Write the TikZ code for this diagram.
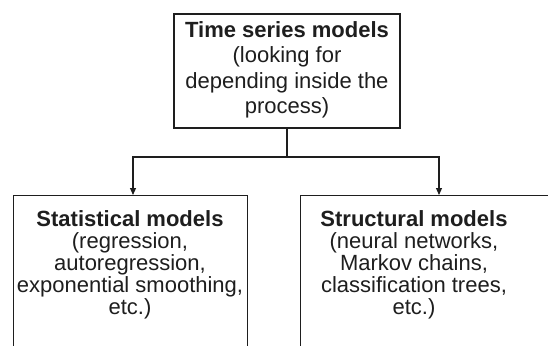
\documentclass[tikz,border=0pt]{standalone}
\usepackage{fontspec}
\setmainfont{Liberation Sans}
\usetikzlibrary{arrows.meta}
\definecolor{ink}{HTML}{1E1E1E}
\tikzset{
  boxnode/.style={draw=ink, line width=1.1pt, inner sep=0pt, fill=white},
  txt/.style={text=ink, inner sep=0pt, align=center, anchor=north},
  conn/.style={draw=ink, line width=1.1pt},
  arr/.style={conn, -{Triangle[width=6pt,length=7pt]}},
}
\begin{document}
\begin{tikzpicture}[x=1pt,y=-1pt]
\useasboundingbox (0,0) rectangle (548,345);
\clip (0,0) rectangle (548,345);
\node[boxnode, minimum width=226pt, minimum height=114pt] (top) at (287,71) {};
\node[boxnode, minimum width=234pt, minimum height=205pt, anchor=north west] (left) at (13,195) {};
\node[boxnode, minimum width=300pt, minimum height=205pt, anchor=north west] (right) at (300,195) {};
\node[txt, font=\fontsize{22}{25.2}\selectfont] (ttext) at (287,21.5)
  {\textbf{Time series models}\\(looking for\\depending inside the\\process)};
\node[txt, font=\fontsize{22}{22.2}\selectfont] (ltext) at (130,210)
  {\textbf{Statistical models}\\(regression,\\autoregression,\\exponential smoothing,\\etc.)};
\node[txt, font=\fontsize{22}{22.2}\selectfont] (rtext) at (414,210)
  {\textbf{Structural models}\\(neural networks,\\Markov chains,\\classification trees,\\etc.)};
\coordinate (j) at (top.south |- 0,157);
\draw[conn] (top.south) -- (j);
\draw[arr] (j) -| ([xshift=120pt]left.north west);
\draw[arr] (j) -| ([xshift=139pt]right.north west);
\end{tikzpicture}
\end{document}
